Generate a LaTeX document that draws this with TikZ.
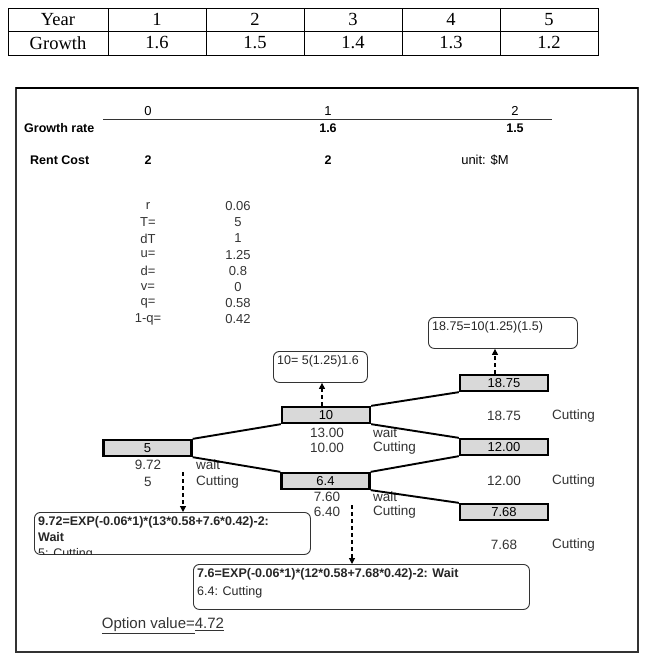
\documentclass[tikz,border=0pt]{standalone}
\usepackage{fontspec}
\setmainfont{Liberation Sans}
\newfontfamily\tablefont{Liberation Serif}
\usetikzlibrary{positioning,arrows.meta,calc}
\definecolor{latticefill}{HTML}{D9D9D9}
\definecolor{labelgrey}{HTML}{333333}
\definecolor{framegrey}{HTML}{333333}

\begin{document}
\begin{tikzpicture}[x=1pt,y=-1pt,
  cell/.style={font=\tablefont\fontsize{18.5}{20}\selectfont,inner sep=0pt},
  hdr/.style={font=\fontsize{12.5}{14}\selectfont\bfseries,inner sep=0pt},
  param/.style={font=\fontsize{13}{14}\selectfont,text=labelgrey,inner sep=0pt},
  lattice/.style={draw=black,line width=2.3pt,fill=latticefill,minimum width=88pt,minimum height=16pt,inner sep=0pt,font=\fontsize{13}{14}\selectfont},
  val/.style={font=\fontsize{13.5}{14}\selectfont,text=labelgrey,inner sep=0pt},
  act/.style={val,anchor=west},
  note/.style={draw=framegrey,line width=0.9pt,rounded corners=6pt,anchor=north west,inner sep=0pt},
  notetext/.style={align=left,inner sep=0pt,font=\fontsize{12.5}{16}\selectfont,text=black!85},
  branch/.style={line width=1.9pt},
  hint/.style={line width=1.2pt,dash pattern=on 4pt off 3pt,-{Triangle[length=6pt,width=6pt]}}
]
\useasboundingbox (0,0) rectangle (650,665);

\draw[line width=0.9pt] (8,8) rectangle (598,55);
\draw[line width=0.9pt] (8,31.5) -- (598,31.5);
\foreach \x in {108,206,304,402,500} \draw[line width=0.9pt] (\x,8) -- (\x,55);
\node[cell] (yearhd) at (58,19.5) {Year};
\node[cell] (growthhd) at (58,43) {Growth};
\foreach \g [count=\i] in {1.6,1.5,1.4,1.3,1.2} {
  \node[cell] (year\i) at ({59+98*\i},19.5) {\i};
  \node[cell] (growth\i) at ({59+98*\i},43) {\g};
}

\draw[framegrey,line width=1.8pt] (16,88) rectangle (638,652);
\draw[line width=2.6pt] (16,88) -- (638,88);

\node[param,text=black] (period0) at (148,111) {0};
\node[param,text=black] (period1) at (328,111) {1};
\node[param,text=black] (period2) at (515,111) {2};
\draw[framegrey,line width=1.6pt] (103,119.5) -- (552,119.5);
\node[hdr,anchor=west] (growthrow) at (24,128) {Growth rate};
\node[hdr] (rate1) at (328,128) {1.6};
\node[hdr] (rate2) at (515,128) {1.5};
\node[hdr,anchor=west] (rentrow) at (30,160) {Rent Cost};
\node[hdr] (rent0) at (148,160) {2};
\node[hdr] (rent1) at (328,160) {2};
\node[param,text=black] (unit) at (485,160) {unit: \$M};

\foreach \p/\v [count=\i from 0] in {r/0.06,T=/5,dT/1,u=/1.25,d=/0.8,v=/0,q=/0.58,1-q=/0.42} {
  \node[param] (pname\i) at (148,{206+16.2*\i}) {\p};
  \node[param] (pval\i) at (238,{206+16.2*\i}) {\v};
}

\node[lattice] (n5) at (147.5,448) {5};
\node[lattice] (n10) at (326,415) {10};
\node[lattice] (n64) at (325.5,481) {6.4};
\node[lattice] (n1875) at (504,383) {18.75};
\node[lattice] (n12) at (504,447) {12.00};
\node[lattice] (n768) at (504,512) {7.68};

\node[val] (wait5) at (148,465) {9.72};
\node[val] (cut5) at (148,482) {5};
\node[act] (wait5txt) at (196,465) {wait};
\node[act] (cut5txt) at (196,482) {Cutting};
\node[val] (wait10) at (327,433) {13.00};
\node[val] (cut10) at (327,448) {10.00};
\node[act] (wait10txt) at (373,433) {wait};
\node[act] (cut10txt) at (373,448) {Cutting};
\node[val] (wait64) at (327,497) {7.60};
\node[val] (cut64) at (327,512) {6.40};
\node[act] (wait64txt) at (373,497) {wait};
\node[act] (cut64txt) at (373,512) {Cutting};
\node[val] (cut1875) at (504,416) {18.75};
\node[act] (cut1875txt) at (552,416) {Cutting};
\node[val] (cut12) at (504,481) {12.00};
\node[act] (cut12txt) at (552,481) {Cutting};
\node[val] (cut768) at (504,545) {7.68};
\node[act] (cut768txt) at (552,545) {Cutting};

\draw[branch] (n5.north east) -- (n10.south west);
\draw[branch] (n5.south east) -- (n64.north west);
\draw[branch] (n10.north east) -- (n1875.south west);
\draw[branch] (n10.south east) -- (n12.north west);
\draw[branch] (n64.north east) -- (n12.south west);
\draw[branch] (n64.south east) -- (n768.north west);

\node[note,minimum width=94pt,minimum height=31pt] (note10) at (273,351) {};
\node[notetext,below right=4pt and 4pt of note10.north west] (note10txt) {10= 5(1.25)1.6};
\node[note,minimum width=149pt,minimum height=31pt] (note1875) at (428,317) {};
\node[notetext,below right=4pt and 4pt of note1875.north west] (note1875txt) {18.75=10(1.25)(1.5)};
\node[note,minimum width=276pt,minimum height=42pt] (note972) at (34,512) {};
\begin{scope}
  \clip[rounded corners=6pt] (note972.north west) rectangle (note972.south east);
  \node[notetext,below right=4pt and 4pt of note972.north west] (note972txt)
    {\textbf{9.72=EXP(-0.06*1)*(13*0.58+7.6*0.42)-2:}\\\textbf{Wait}\\5: Cutting};
\end{scope}
\node[note,minimum width=336pt,minimum height=45pt] (note76) at (193,564) {};
\node[notetext,below right=4pt and 4pt of note76.north west,font=\fontsize{12.5}{18}\selectfont] (note76txt)
  {\textbf{7.6=EXP(-0.06*1)*(12*0.58+7.68*0.42)-2: Wait}\\6.4: Cutting};

\coordinate (up10) at ([xshift=-4pt]n10.north);
\draw[hint] (up10) -- (up10 |- note10.south);
\coordinate (up1875) at ([xshift=-9pt]n1875.north);
\draw[hint] (up1875) -- (up1875 |- note1875.south);
\coordinate (dn5) at (183,472);
\draw[hint] (dn5) -- (dn5 |- note972.north);
\coordinate (dn64) at (352,505);
\draw[hint] (dn64) -- (dn64 |- note76.north);

\node[font=\fontsize{15}{17}\selectfont,text=labelgrey] (option) at (163,626) {\underline{Option value=}\underline{4.72}};
\end{tikzpicture}
\end{document}
